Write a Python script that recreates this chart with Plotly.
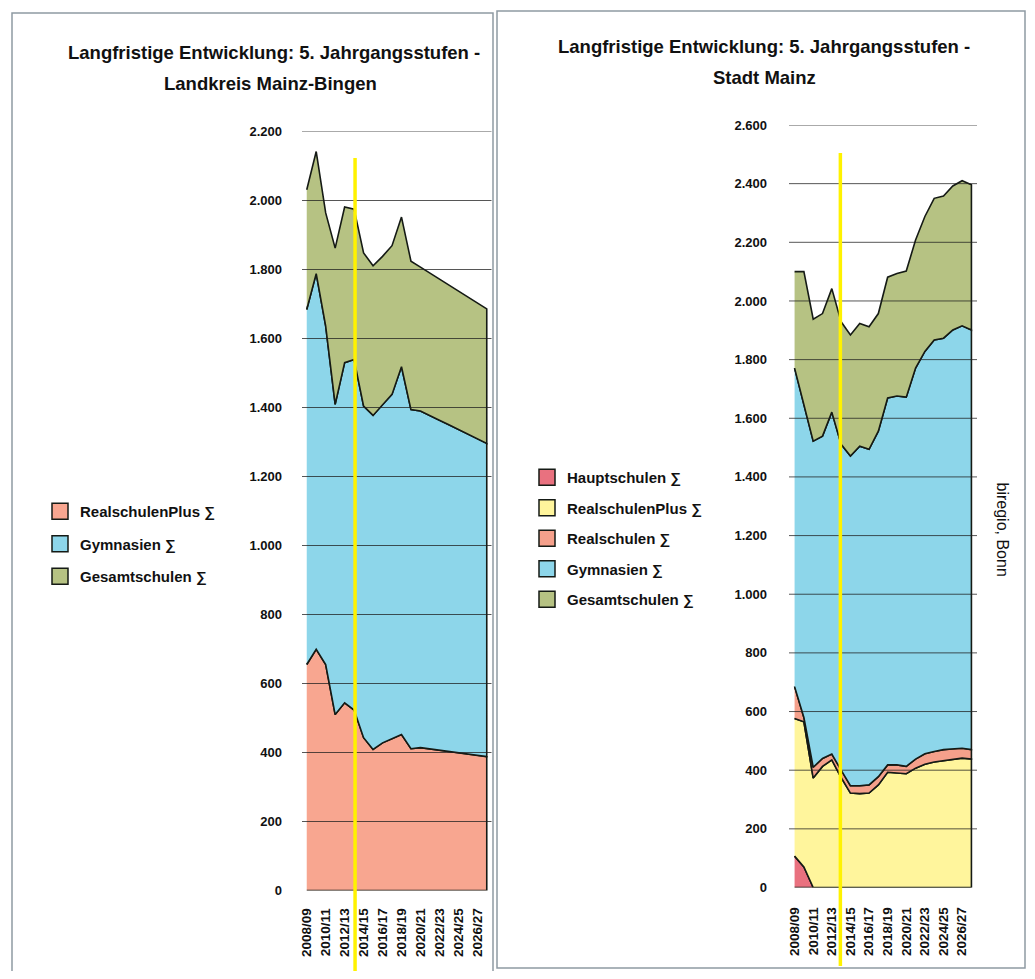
import numpy as np
import plotly.graph_objects as go

# ---------------- data ----------------
years = ["2008/09", "2009/10", "2010/11", "2011/12", "2012/13", "2013/14", "2014/15",
         "2015/16", "2016/17", "2017/18", "2018/19", "2019/20", "2020/21", "2021/22",
         "2022/23", "2023/24", "2024/25", "2025/26", "2026/27", "2027/28"]
tick_labels = years[::2]

# Landkreis Mainz-Bingen
lk_realschulenplus = [655, 699, 655, 510, 544, 523, 443, 409, 428, 440, 452, 411, 414, 410, 406, 403, 399, 396, 392, 388]
lk_gymnasien = [1029, 1089, 981, 899, 986, 1016, 961, 968, 981, 998, 1066, 983, 976, 967, 957, 947, 937, 927, 918, 908]
lk_gesamtschulen = [347, 354, 328, 453, 451, 436, 444, 434, 429, 431, 434, 430, 417, 413, 410, 405, 402, 398, 393, 390]

# Stadt Mainz
sm_hauptschulen = [107, 70, 0, 0, 0, 0, 0, 0, 0, 0, 0, 0, 0, 0, 0, 0, 0, 0, 0, 0]
sm_realschulenplus = [469, 495, 373, 413, 435, 375, 322, 320, 322, 350, 393, 390, 388, 407, 420, 428, 432, 437, 441, 438]
sm_realschulen = [109, 15, 37, 27, 20, 25, 25, 27, 28, 28, 25, 28, 25, 31, 36, 36, 38, 36, 34, 32]
sm_gymnasien = [1086, 1066, 1112, 1099, 1166, 1111, 1124, 1158, 1144, 1178, 1251, 1258, 1259, 1333, 1372, 1403, 1403, 1428, 1440, 1431]
sm_gesamtschulen = [329, 454, 416, 418, 421, 418, 413, 418, 418, 401, 412, 418, 430, 437, 460, 483, 485, 491, 495, 495]

names_left = ["RealschulenPlus \u2211", "Gymnasien \u2211", "Gesamtschulen \u2211"]
names_right = ["Hauptschulen \u2211", "RealschulenPlus \u2211", "Realschulen \u2211",
               "Gymnasien \u2211", "Gesamtschulen \u2211"]
title_line1 = "Langfristige Entwicklung: 5. Jahrgangsstufen -"
title_left = "Landkreis Mainz-Bingen"
title_right = "Stadt Mainz"
source_text = "biregio, Bonn"
marker_pos_left = 5.1     # yellow marker line (between 2013/14 and 2014/15)
marker_pos_right = 4.92
ytick_left = list(range(200, 2201, 200))
ytick_right = list(range(200, 2601, 200))

# ---------------- style ----------------
C_HAUPT = "#E9717F"
C_RSPLUS_L = "#F8A690"
C_RSPLUS_R = "#FFF59C"
C_REAL = "#F5A08B"
C_GYM = "#8DD6EA"
C_GES = "#B6C283"
OUTLINE = "#151a15"
FONT = "Liberation Sans"

# page geometry (browser adds an 8px body margin)
OFF = 8
W, H = 1019, 963
px = lambda v: (v - OFF) / W
py = lambda v: 1 - (v - OFF) / H

fig = go.Figure()
xs = list(range(len(years)))


def add_stack(series, names, colors, xa, ya, legend):
    base = np.zeros(len(years))
    for vals, name, color in zip(series, names, colors):
        top = base + np.array(vals, dtype=float)
        fig.add_trace(go.Scatter(
            x=xs + xs[::-1],
            y=list(top) + list(base[::-1]),
            fill="toself", fillcolor=color, mode="lines",
            line=dict(color=OUTLINE, width=1.6),
            name=name, xaxis=xa, yaxis=ya, showlegend=False, hoveron="fills",
        ))
        # legend entry (box)
        fig.add_trace(go.Scatter(
            x=[None], y=[None], mode="markers", name=name, xaxis=xa, yaxis=ya,
            marker=dict(symbol="square", size=19, color=color,
                        line=dict(color=OUTLINE, width=1.5)),
            legend=legend, legendgroup=legend + name,
        ))
        base = top


add_stack([lk_realschulenplus, lk_gymnasien, lk_gesamtschulen], names_left,
          [C_RSPLUS_L, C_GYM, C_GES], "x", "y", "legend")
add_stack([sm_hauptschulen, sm_realschulenplus, sm_realschulen, sm_gymnasien, sm_gesamtschulen],
          names_right, [C_HAUPT, C_RSPLUS_R, C_REAL, C_GYM, C_GES], "x2", "y2", "legend2")

tickfont = dict(family=FONT, size=13, color="#111", weight="bold")
xtickfont = dict(family=FONT, size=13.5, color="#111", weight="bold")
xcommon = dict(tickmode="array", tickvals=xs[::2], ticktext=tick_labels, tickangle=-90,
               tickfont=xtickfont, showgrid=False, zeroline=False, showline=False, ticks="",
               fixedrange=True, automargin=False)
ycommon = dict(dtick=200, tickformat=",d", showgrid=False,
               zeroline=False, showline=False, ticks="", tickfont=tickfont, fixedrange=True,
               automargin=False)

legfont = dict(family=FONT, size=15, color="#111", weight="bold")
fig.update_layout(
    width=W, height=H, autosize=False,
    margin=dict(l=0, r=0, t=0, b=0, autoexpand=False),
    paper_bgcolor="white", plot_bgcolor="white",
    separators=",.",
    font=dict(family=FONT, color="#111"),
    xaxis=dict(domain=[px(302), px(491.5)], range=[-0.5, 19.5], anchor="y",
               ticklabelstandoff=14, **xcommon),
    yaxis=dict(domain=[py(890.5), py(131.5)], range=[0, 2200], anchor="x",
               ticklabelstandoff=19, **ycommon),
    xaxis2=dict(domain=[px(789), px(977)], range=[-0.6, 19.6], anchor="y2",
                ticklabelstandoff=16, **xcommon),
    yaxis2=dict(domain=[py(887.5), py(125)], range=[0, 2600], anchor="x2",
                ticklabelstandoff=21, **ycommon),
    legend=dict(x=px(40), y=py(495), xanchor="left", yanchor="top", font=legfont,
                tracegroupgap=10, bgcolor="rgba(0,0,0,0)", itemwidth=30),
    legend2=dict(x=px(527), y=py(461), xanchor="left", yanchor="top", font=legfont,
                 tracegroupgap=8, bgcolor="rgba(0,0,0,0)", itemwidth=30),
    showlegend=True,
)

# gridlines drawn above the filled areas (as in the reference)
for v in ytick_left:
    fig.add_shape(type="line", xref="x domain", yref="y", x0=0, x1=1, y0=v, y1=v,
                  line=dict(color="rgba(30,30,30,0.75)", width=1), layer="above")
for v in ytick_right:
    fig.add_shape(type="line", xref="x2 domain", yref="y2", x0=0, x1=1, y0=v, y1=v,
                  line=dict(color="rgba(30,30,30,0.75)", width=1), layer="above")

# titles
tfont = dict(family=FONT, size=18.5, color="#111", weight="bold")
for txt, x, y in [(title_line1, 274, 52), (title_left, 270, 84),
                  (title_line1, 764, 46), (title_right, 764, 77)]:
    fig.add_annotation(text=txt, x=px(x), y=py(y), xref="paper", yref="paper",
                       showarrow=False, xanchor="center", yanchor="middle", font=tfont)

fig.add_annotation(text=source_text, x=px(1013), y=py(529),
                   xref="paper", yref="paper", showarrow=False, textangle=90,
                   font=dict(family=FONT, size=16, color="#111"))

# panel frames
fig.add_shape(type="rect", xref="paper", yref="paper", x0=px(12), x1=px(493),
              y0=py(990), y1=py(13), line=dict(color="#8f9aa3", width=1.5))
fig.add_shape(type="rect", xref="paper", yref="paper", x0=px(497), x1=px(1025),
              y0=py(968), y1=py(11), line=dict(color="#8f9aa3", width=1.5))

# yellow marker lines
fig.add_shape(type="line", xref="x", yref="paper", x0=marker_pos_left, x1=marker_pos_left,
              y0=py(985), y1=py(158), line=dict(color="#FFF200", width=3.5), layer="above")
fig.add_shape(type="line", xref="x2", yref="paper", x0=marker_pos_right, x1=marker_pos_right,
              y0=py(966), y1=py(153), line=dict(color="#FFF200", width=3.5), layer="above")

fig.write_html("out.html")
